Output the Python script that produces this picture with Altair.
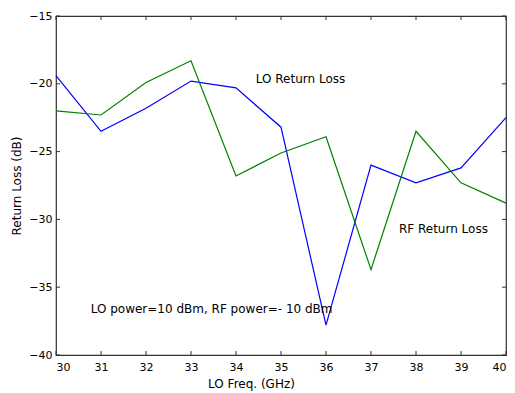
import altair as alt
import pandas as pd

freq = [30, 31, 32, 33, 34, 35, 36, 37, 38, 39, 40]
lo_rl = [-19.4, -23.5, -21.8, -19.8, -20.3, -23.2, -37.8, -26.0, -27.3, -26.2, -22.5]
rf_rl = [-22.0, -22.3, -19.9, -18.3, -26.8, -25.1, -23.9, -33.7, -23.5, -27.3, -28.8]
x_ticks = [30, 31, 32, 33, 34, 35, 36, 37, 38, 39, 40]
y_ticks = [-40, -35, -30, -25, -20, -15]
notes = ["LO Return Loss", "RF Return Loss", "LO power=10 dBm, RF power=- 10 dBm"]
note_x = [34.44, 37.62, 30.77]
note_y = [-19.65, -30.73, -36.6]

df = pd.DataFrame({
    "freq": freq * 2,
    "rl": lo_rl + rf_rl,
    "series": ["LO"] * len(freq) + ["RF"] * len(freq),
})
notes_df = pd.DataFrame({"text": notes, "x": note_x, "y": note_y})
xt = pd.DataFrame({"v": x_ticks})
yt = pd.DataFrame({"v": y_ticks})

FONT = "DejaVu Sans"
xscale = alt.Scale(domain=[30, 40], nice=False, zero=False)
yscale = alt.Scale(domain=[-40, -15], nice=False, zero=False)

lines = alt.Chart(df).mark_line(strokeWidth=1.2).encode(
    x=alt.X("freq:Q", scale=xscale,
            axis=alt.Axis(values=x_ticks, title="LO Freq. (GHz)", tickSize=0,
                          labelPadding=6, grid=False, domain=False,
                          titleX=195, titleY=28, titleAlign="center",
                          titleBaseline="middle")),
    y=alt.Y("rl:Q", scale=yscale,
            axis=alt.Axis(values=y_ticks, title="Return Loss (dB)", tickSize=0,
                          labelPadding=4, grid=False, domain=False,
                          titlePadding=5)),
    color=alt.Color("series:N", scale=alt.Scale(domain=["LO", "RF"], range=["#0000ff", "#008000"]),
                    legend=None),
)

text = alt.Chart(notes_df).mark_text(align="left", baseline="middle", font=FONT, fontSize=12,
                                     color="black").encode(
    x=alt.X("x:Q", scale=xscale), y=alt.Y("y:Q", scale=yscale), text="text:N")

tb = alt.Chart(xt).mark_rule(color="#333333").encode(x=alt.X("v:Q", scale=xscale), y=alt.value(339), y2=alt.value(335))
tt = alt.Chart(xt).mark_rule(color="#333333").encode(x=alt.X("v:Q", scale=xscale), y=alt.value(0), y2=alt.value(4))
tl = alt.Chart(yt).mark_rule(color="#333333").encode(y=alt.Y("v:Q", scale=yscale), x=alt.value(0), x2=alt.value(4))
tr = alt.Chart(yt).mark_rule(color="#333333").encode(y=alt.Y("v:Q", scale=yscale), x=alt.value(450), x2=alt.value(446))

chart = alt.layer(lines, text, tb, tt, tl, tr).properties(
    width=450, height=339,
    autosize=alt.AutoSizeParams(type="none"),
    padding={"left": 56, "top": 16, "right": 9, "bottom": 38},
    background="white",
).configure_view(stroke="#333333", strokeWidth=1.2).configure_axis(
    labelFont=FONT, titleFont=FONT, labelFontSize=11, titleFontSize=12,
    labelColor="black", titleColor="black", titleFontWeight="normal",
)

chart.save("out.html", embed_options={"renderer": "svg", "actions": False})
